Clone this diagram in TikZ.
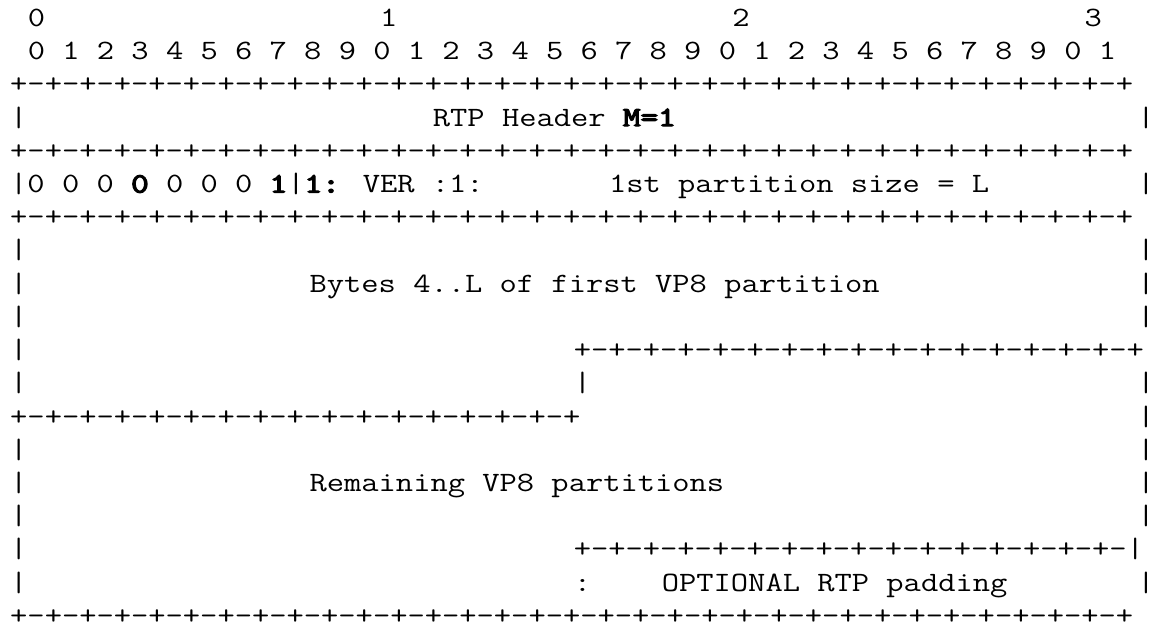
\documentclass[tikz,border=0pt]{standalone}
\usepackage{graphicx}
\font\heavyfont="[lmmono10-regular]:embolden=4" at 21pt
\newcommand{\mono}[1]{\scalebox{1.198}[1]{#1}}
\newcommand{\heavy}[1]{{\heavyfont #1}}
\newcommand{\ruler}[1]{+\foreach \k in {1,...,#1}{-+}}
\tikzset{
    mytxt/.style = {anchor=base west, inner sep=0pt, outer sep=0pt, font=\ttfamily\fontsize{21}{25}\selectfont, text=black},
    mybar/.style = {mytxt},
    myrule/.style = {mytxt, text depth=0pt},
}

\begin{document}
\begin{tikzpicture}[x=13.2075pt, y=-24.9pt]
  \useasboundingbox (-0.579,0.2) rectangle (65,19.06);
  % bit numbers
  \node[mytxt] (tens0) at (1,1) {\mono{0}};
  \node[mytxt] (tens1) at (21,1) {\mono{1}};
  \node[mytxt] (tens2) at (41,1) {\mono{2}};
  \node[mytxt] (tens3) at (61,1) {\mono{3}};
  \node[mytxt] (bits) at (1,2) {\mono{0 1 2 3 4 5 6 7 8 9 0 1 2 3 4 5 6 7 8 9 0 1 2 3 4 5 6 7 8 9 0 1}};
  % full width rules
  \foreach \r in {3,5,7,19} {
    \node[myrule] (rule\r) at (0,\r) {\mono{\ruler{32}}};
  }
  % half rules
  \node[myrule] (rule11) at (32,11) {\mono{\ruler{16}}};
  \node[myrule] (rule13) at (0,13) {\mono{\ruler{16}}};
  \node[myrule] (rule17) at (32,17) {\mono{\ruler{15}-|}};
  % side bars
  \foreach \r in {4,8,9,10,11,12,14,15,16,17,18} {
    \node[mybar] (lbar\r) at (0,\r) {\mono{|}};
  }
  \foreach \r in {4,6,8,9,10,12,13,14,15,16,18} {
    \node[mybar] (rbar\r) at (64,\r) {\mono{|}};
  }
  \node[mybar] (mbar12) at (32,12) {\mono{|}};
  \node[mybar] (mcol18) at (32,18) {\mono{:}};
  % fields
  \node[mytxt] (rtp) at (24,4) {\mono{RTP Header \heavy{M=1}}};
  \node[mytxt] (desc) at (0,6) {\mono{|0 0 0 \heavy{0} 0 0 0 \heavy{1}|\heavy{1:} VER :1:}};
  \node[mytxt] (size) at (34,6) {\mono{1st partition size = L}};
  \node[mytxt] (first) at (17,9) {\mono{Bytes 4..L of first VP8 partition}};
  \node[mytxt] (rest) at (17,15) {\mono{Remaining VP8 partitions}};
  \node[mytxt] (pad) at (37,18) {\mono{OPTIONAL RTP padding}};
\end{tikzpicture}
\end{document}
